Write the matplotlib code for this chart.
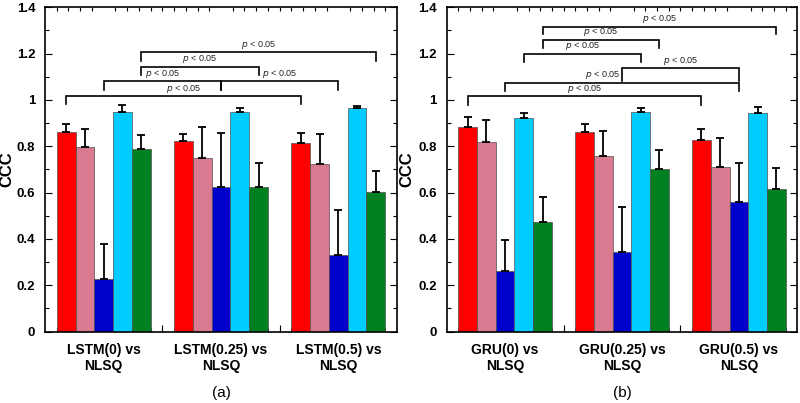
import matplotlib
matplotlib.use("Agg")
import matplotlib.pyplot as plt
import numpy as np

plt.rcParams['font.family'] = ['Liberation Sans', 'DejaVu Sans']

# ---------------- data ----------------
groups_a = ["LSTM(0) vs\nNLSQ", "LSTM(0.25) vs\nNLSQ", "LSTM(0.5) vs\nNLSQ"]
groups_b = ["GRU(0) vs\nNLSQ", "GRU(0.25) vs\nNLSQ", "GRU(0.5) vs\nNLSQ"]

# panel (a) means and upper errors, 5 series (red, pink, blue, cyan, green)
s1_a = [0.861, 0.822, 0.815]; e1_a = [0.036, 0.033, 0.043]
s2_a = [0.796, 0.751, 0.722]; e2_a = [0.080, 0.130, 0.130]
s3_a = [0.226, 0.623, 0.329]; e3_a = [0.151, 0.236, 0.197]
s4_a = [0.950, 0.947, 0.963]; e4_a = [0.030, 0.019, 0.011]
s5_a = [0.786, 0.623, 0.601]; e5_a = [0.064, 0.105, 0.091]

# panel (b)
s1_b = [0.885, 0.861, 0.826]; e1_b = [0.041, 0.036, 0.050]
s2_b = [0.818, 0.757, 0.710]; e2_b = [0.095, 0.107, 0.126]
s3_b = [0.261, 0.342, 0.558]; e3_b = [0.132, 0.197, 0.171]
s4_b = [0.920, 0.950, 0.943]; e4_b = [0.023, 0.016, 0.027]
s5_b = [0.472, 0.701, 0.614]; e5_b = [0.108, 0.082, 0.091]

# significance brackets: (group1, series1, group2, series2, line y, tick bottom y)
brackets_a = [
    (0, 4, 2, 4, 1.205, 1.170),
    (0, 4, 1, 4, 1.142, 1.106),
    (0, 2, 1, 2, 1.080, 1.044),
    (1, 2, 2, 2, 1.080, 1.044),
    (0, 0, 2, 0, 1.015, 0.983),
]
brackets_b = [
    (0, 4, 2, 4, 1.317, 1.286),
    (0, 4, 1, 4, 1.260, 1.225),
    (0, 3, 1, 3, 1.199, 1.163),
    (1, 2, 2, 2, 1.136, 1.080),
    (0, 2, 2, 2, 1.075, 1.040),
    (0, 0, 2, 0, 1.015, 0.980),
]
sig_label = r"$p$ < 0.05"

colors = ["#FF0000", "#D97A90", "#0000CC", "#00CCFF", "#008020"]
bar_w = 0.16

fig = plt.figure(figsize=(8.0, 4.03), dpi=100)
ax_a = fig.add_axes([45/800, 71.5/403, 352/800, 324.2/403])
ax_b = fig.add_axes([446.7/800, 71.5/403, 350.6/800, 324.2/403])


def xpos(g, s):
    return g + (s - 2) * bar_w


def draw(ax, groups, means, errs, brackets, letter, text_shift, ylab_x):
    x = np.arange(len(groups))
    for i, (m, e) in enumerate(zip(means, errs)):
        ax.bar(x + (i - 2) * bar_w, m, width=bar_w, color=colors[i],
               edgecolor="#505050", linewidth=0.5, zorder=2)
        ax.errorbar(x + (i - 2) * bar_w, m, yerr=[np.zeros(len(e)), e],
                    fmt="none", ecolor="black", elinewidth=1.3, capsize=2.6,
                    capthick=1.3, zorder=3)
    for k, (g1, si1, g2, si2, yl, yb) in enumerate(brackets):
        x1, x2 = xpos(g1, si1), xpos(g2, si2)
        ax.plot([x1, x1, x2, x2], [yb, yl, yl, yb], color="black", lw=1.2,
                solid_joinstyle="miter", zorder=4)
        tx = (x1 + x2) / 2 + text_shift.get(k, 0.0)
        ax.text(tx, yl + 0.008, sig_label, ha="center", va="bottom",
                fontsize=6.5, color="#222222")
    ax.set_xlim(-0.5, 2.5)
    ax.set_ylim(0, 1.4)
    ax.set_xticks(x)
    ax.set_xticklabels(groups, fontsize=10, fontweight="bold", linespacing=1.2)
    ax.tick_params(axis="x", which="major", length=0, pad=8)
    ax.set_xticks(np.arange(-0.4, 2.45, 0.1), minor=True)
    ax.tick_params(axis="x", which="minor", direction="in", length=3,
                   top=True, bottom=True, width=0.8)
    sec = ax.secondary_xaxis("bottom")
    sec.set_xticks([0.5, 1.5])
    sec.set_xticklabels(["", ""])
    sec.tick_params(direction="in", length=5, width=0.8)
    sec.spines["bottom"].set_visible(False)
    ax.set_yticks(np.arange(0, 1.41, 0.2))
    ax.set_yticklabels(["0", "0.2", "0.4", "0.6", "0.8", "1", "1.2", "1.4"],
                       fontsize=9.5, fontweight="bold")
    ax.set_yticks(np.arange(0.1, 1.4, 0.2), minor=True)
    ax.tick_params(axis="y", which="major", direction="in", length=5,
                   left=True, right=True, width=0.8, pad=7)
    ax.tick_params(axis="y", which="minor", direction="in", length=3,
                   left=True, right=True, width=0.8)
    ax.set_ylabel("CCC", fontsize=12, fontweight="bold")
    ax.yaxis.set_label_coords(ylab_x, 0.5)
    for sp in ax.spines.values():
        sp.set_linewidth(1.2)
    ax.text(0.5, -0.19, letter, transform=ax.transAxes, ha="center",
            va="center", fontsize=11)


draw(ax_a, groups_a, [s1_a, s2_a, s3_a, s4_a, s5_a],
     [e1_a, e2_a, e3_a, e4_a, e5_a], brackets_a, "(a)", {}, -0.087)
draw(ax_b, groups_b, [s1_b, s2_b, s3_b, s4_b, s5_b],
     [e1_b, e2_b, e3_b, e4_b, e5_b], brackets_b, "(b)", {4: -0.17}, -0.092)

fig.savefig("out.png", dpi=100)
